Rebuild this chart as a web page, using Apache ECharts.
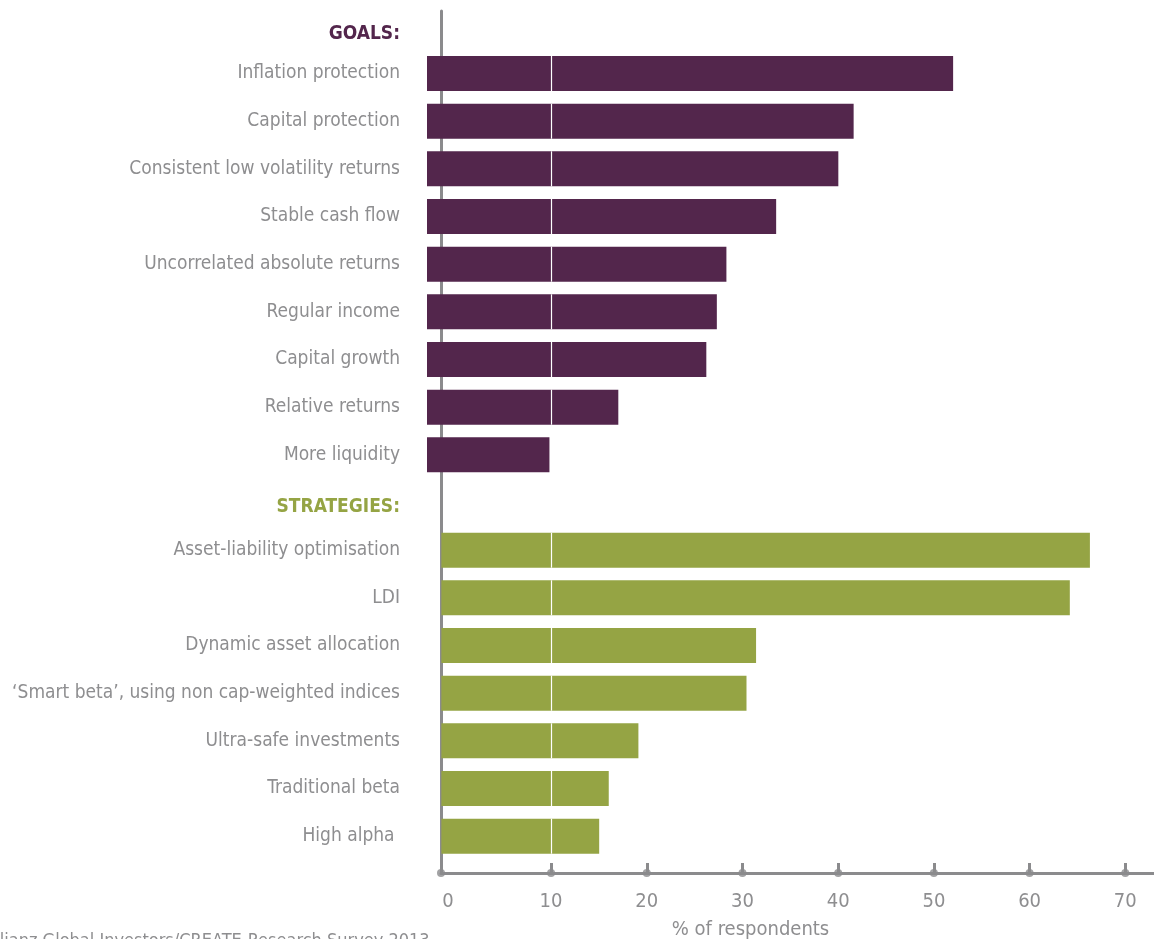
<!DOCTYPE html>
<html>
<head>
<meta charset="utf-8">
<script src="https://cdn.jsdelivr.net/npm/echarts@6/dist/echarts.min.js"></script>
<style>
html,body{margin:0;padding:0;background:#fff;}
#chart{width:1154px;height:939px;}
</style>
</head>
<body>
<div id="chart"></div>
<script>
// ---- data ----
const headerGoals = 'GOALS:';
const headerStrategies = 'STRATEGIES:';
const goalLabels = ['Inflation protection','Capital protection','Consistent low volatility returns','Stable cash flow','Uncorrelated absolute returns','Regular income','Capital growth','Relative returns','More liquidity'];
const goalValues = [52, 41.6, 40, 33.5, 28.3, 27.3, 26.2, 17, 9.8];
const strategyLabels = ['Asset-liability optimisation','LDI','Dynamic asset allocation','\u2018Smart beta\u2019, using non cap-weighted indices','Ultra-safe investments','Traditional beta','High alpha '];
const strategyValues = [66.3, 64.2, 31.4, 30.4, 19.1, 16, 15];
const tickValues = [0, 10, 20, 30, 40, 50, 60, 70];
const tickLabels = ['0', '10', '20', '30', '40', '50', '60', '70'];
const axisName = '% of respondents';
const sourceText = 'Source: Allianz Global Investors/CREATE-Research Survey 2013';

// ---- style ----
const PURPLE = '#53264c';
const GREEN = '#95a444';
const AXIS_GRAY = '#8b8b8d';
const TEXT_GRAY = '#8e8e90';
const FONT = '"Liberation Sans Narrow","DejaVu Sans Condensed","Roboto Condensed","Noto Sans",sans-serif';
const GOAL_START = -3;     // goal bars start left of the axis line
const STRAT_START = -1.5;  // strategy bars start at the axis line
const AXIS_START = -1.5;   // where the "0" tick/axis line sits
const DIVIDER = 10;

const categories = [headerGoals, ...goalLabels, headerStrategies, ...strategyLabels];
const goalData = goalValues.map((v, i) => [v, i + 1]);
const stratData = strategyValues.map((v, i) => [v, i + 2 + goalLabels.length]);
const tickPos = tickValues.map(t => (t === 0 ? AXIS_START : t));

function makeRender(start, color) {
  return function (params, api) {
    const v = api.value(0), y = api.value(1);
    const h = api.size([0, 1])[1] * 0.735;
    const p0 = api.coord([start, y]);
    const p1 = api.coord([v, y]);
    const children = [{
      type: 'rect',
      shape: { x: p0[0], y: p0[1] - h / 2, width: p1[0] - p0[0], height: h },
      style: { fill: color }
    }];
    if (v > DIVIDER) {
      const pd = api.coord([DIVIDER, y]);
      children.push({
        type: 'line',
        shape: { x1: Math.round(pd[0]) + 0.5, y1: p0[1] - h / 2, x2: Math.round(pd[0]) + 0.5, y2: p0[1] + h / 2 },
        style: { stroke: '#ffffff', lineWidth: 1.2 }
      });
    }
    return { type: 'group', children };
  };
}

const chart = echarts.init(document.getElementById('chart'), null, { renderer: 'canvas' });
chart.setOption({
  backgroundColor: '#ffffff',
  animation: false,
  textStyle: { fontFamily: FONT },
  graphic: [{
    type: 'text', left: -82, top: 932,
    style: { text: sourceText, fontSize: 18, fill: TEXT_GRAY, fontFamily: FONT }
  }],
  grid: [
    { left: 427, right: 0, top: 2, height: 858, containLabel: false, outerBoundsMode: 'none' },
    { left: 441, right: 0, top: 11, bottom: 66, containLabel: false, outerBoundsMode: 'none' }
  ],
  xAxis: [
    { type: 'value', gridIndex: 0, min: GOAL_START, max: 73, show: false, splitLine: { show: false } },
    {
      type: 'value', gridIndex: 1, min: AXIS_START, max: 73,
      axisLine: { show: true, onZero: false, lineStyle: { color: AXIS_GRAY, width: 3 } },
      axisTick: { show: true, inside: true, length: 10, customValues: tickValues.filter(t => t !== 0), lineStyle: { color: AXIS_GRAY, width: 3 } },
      axisLabel: {
        show: true, margin: 19, color: TEXT_GRAY, fontSize: 20, fontFamily: FONT,
        customValues: tickPos,
        formatter: function (val) {
          const idx = tickPos.indexOf(val);
          const s = idx >= 0 ? tickLabels[idx] : '';
          return val === AXIS_START ? '{z|' + s + '}' : s;
        },
        rich: { z: { padding: [0, 0, 0, 14], color: TEXT_GRAY, fontSize: 20, fontFamily: FONT } }
      },
      splitLine: { show: false },
      name: axisName, nameLocation: 'middle', nameGap: 47,
      nameTextStyle: { color: TEXT_GRAY, fontSize: 20, fontFamily: FONT, padding: [0, 94, 0, 0] }
    }
  ],
  yAxis: [
    {
      type: 'category', gridIndex: 0, data: categories, inverse: true,
      axisLine: { show: false }, axisTick: { show: false }, splitLine: { show: false },
      axisLabel: {
        margin: 27, color: TEXT_GRAY, fontSize: 19, fontFamily: FONT,
        formatter: function (val) {
          if (val === headerGoals) return '{h1|' + val + '}';
          if (val === headerStrategies) return '{h2|' + val + '}';
          return val;
        },
        rich: {
          h1: { color: PURPLE, fontWeight: 'bold', fontSize: 19, fontFamily: FONT, padding: [16, 0, 0, 0] },
          h2: { color: GREEN, fontWeight: 'bold', fontSize: 19, fontFamily: FONT, padding: [9, 0, 0, 0] }
        }
      }
    },
    {
      type: 'value', gridIndex: 1, min: 0, max: 1,
      axisLine: { show: true, onZero: false, lineStyle: { color: AXIS_GRAY, width: 3 } },
      axisTick: { show: false }, axisLabel: { show: false }, splitLine: { show: false }
    }
  ],
  series: [
    {
      name: 'Goals', type: 'custom', xAxisIndex: 0, yAxisIndex: 0,
      renderItem: makeRender(GOAL_START, PURPLE), encode: { x: 0, y: 1 }, data: goalData, z: 3
    },
    {
      name: 'Strategies', type: 'custom', xAxisIndex: 0, yAxisIndex: 0,
      renderItem: makeRender(STRAT_START, GREEN), encode: { x: 0, y: 1 }, data: stratData, z: 3
    },
    {
      name: 'ticks', type: 'scatter', xAxisIndex: 1, yAxisIndex: 1,
      data: tickPos.map(t => [t, 0]), symbol: 'circle', symbolSize: 8,
      itemStyle: { color: AXIS_GRAY }, clip: false, silent: true, z: 5
    }
  ]
});
</script>
</body>
</html>
